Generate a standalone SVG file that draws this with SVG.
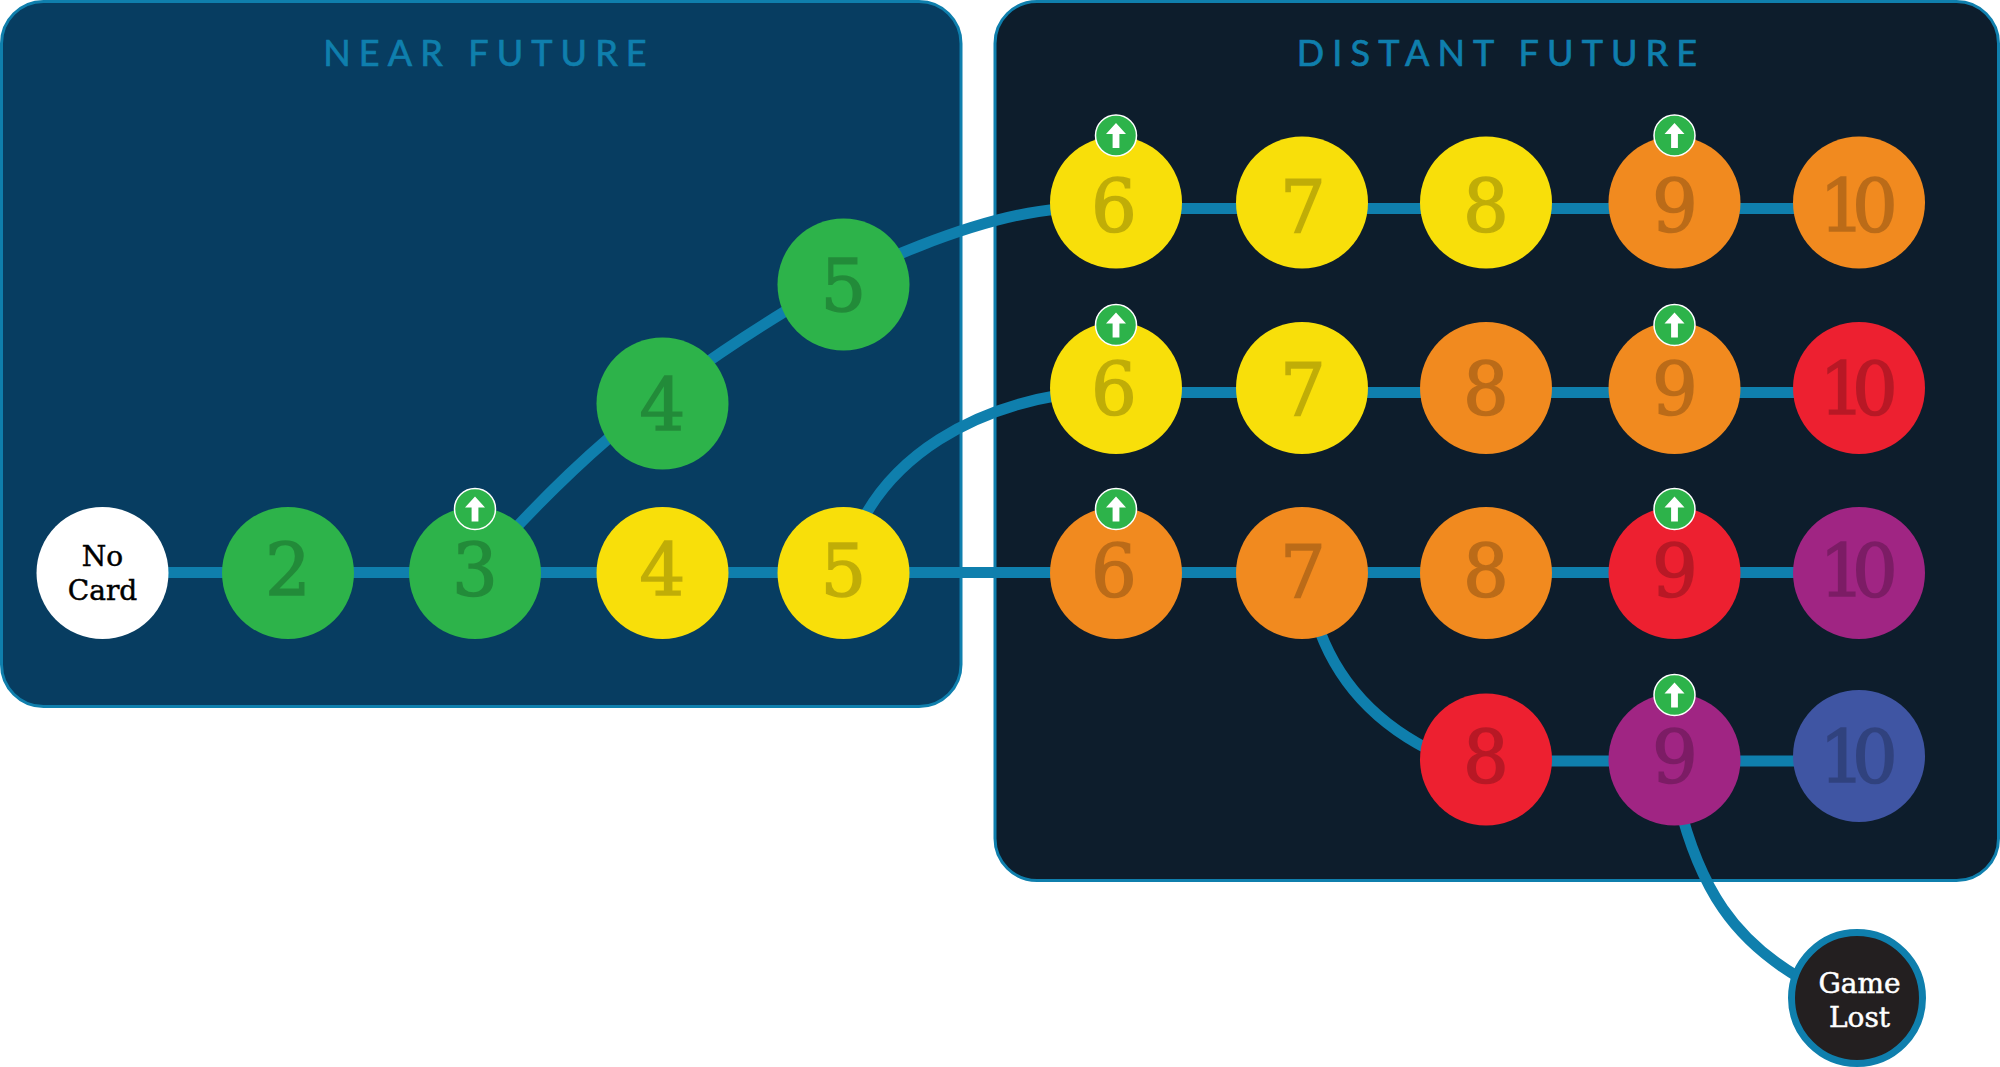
<svg xmlns="http://www.w3.org/2000/svg" xmlns:xlink="http://www.w3.org/1999/xlink" width="2000" height="1067" viewBox="0 0 2000 1067">
<style>
.panel{stroke:#0f7fad;stroke-width:3}
.title{font-family:"Lato","Noto Sans",sans-serif;font-size:36px;font-weight:400;fill:#0f7fad;stroke:#0f7fad;stroke-width:.7;letter-spacing:8.100px;text-anchor:middle}
.conn{fill:none;stroke:#0f7fad;stroke-width:11}
.num{font-family:"DejaVu Serif","Liberation Serif",serif;font-size:72px;fill:#000;stroke:#000;stroke-width:1.500;opacity:.22;text-anchor:middle}
.ten{letter-spacing:-13px}
.lab{font-family:"DejaVu Serif","Liberation Serif",serif;font-size:28px;stroke-width:.5;text-anchor:middle}
.g{fill:#2db34a}.y{fill:#f8df0a}.o{fill:#f18a1f}.r{fill:#ed2030}.p{fill:#a02583}.b{fill:#3f55a3}
</style>
<defs>
<g id="up"><circle r="20.500" fill="#2db34a" stroke="#fff" stroke-width="1.500"/><path d="M0 -12.500L10 -1.500H3.400V12.500H-3.400V-1.500H-10Z" fill="#fff"/></g>
</defs>
<rect id="panel-near" class="panel" x="1.500" y="1.500" width="959.500" height="705" rx="42" fill="#073d61"/>
<rect id="panel-distant" class="panel" x="995" y="1.500" width="1003.500" height="879" rx="42" fill="#0d1d2c"/>
<text class="title" x="489" y="66">NEAR FUTURE</text>
<text class="title" x="1501" y="66">DISTANT FUTURE</text>
<g id="connectors">
<path class="conn" d="M102 572.500H1860"/>
<path class="conn" d="M1116 208.500H1860"/>
<path class="conn" d="M1116 392.500H1860"/>
<path class="conn" d="M1486 761H1860"/>
<path class="conn" d="M490 556C560 478 640 400 784 312C860 266 980 215 1060 209"/>
<path class="conn" d="M860 525C895 455 970 410 1060 395"/>
<path class="conn" d="M1316 620C1335 680 1375 725 1440 755"/>
<path class="conn" d="M1678 800C1700 890 1735 940 1800 978"/>
</g>
<g id="n-nocard"><circle cx="102.500" cy="573" r="66" fill="#fff"/><text class="lab" x="102.500" y="566" fill="#000" stroke="#000">No</text><text class="lab" x="102.500" y="600" fill="#000" stroke="#000">Card</text></g>
<g id="n-2"><circle class="g" cx="288" cy="573" r="66"/><text class="num" x="288" y="596">2</text></g>
<g id="n-3"><circle class="g" cx="475" cy="573" r="66"/><text class="num" x="475" y="596">3</text><use href="#up" x="475" y="509"/></g>
<g id="n-4y"><circle class="y" cx="662.500" cy="573" r="66"/><text class="num" x="662.500" y="596">4</text></g>
<g id="n-5y"><circle class="y" cx="843.500" cy="573" r="66"/><text class="num" x="843.500" y="596">5</text></g>
<g id="n-4g"><circle class="g" cx="662.500" cy="403.500" r="66"/><text class="num" x="662.500" y="430.500">4</text></g>
<g id="n-5g"><circle class="g" cx="843.500" cy="284.500" r="66"/><text class="num" x="843.500" y="310.500">5</text></g>
<g id="r1-6"><circle class="y" cx="1116" cy="202.500" r="66"/><text class="num" x="1114" y="232">6</text><use href="#up" x="1116" y="135.500"/></g>
<g id="r1-7"><circle class="y" cx="1302" cy="202.500" r="66"/><text class="num" x="1303" y="232">7</text></g>
<g id="r1-8"><circle class="y" cx="1486" cy="202.500" r="66"/><text class="num" x="1486" y="232">8</text></g>
<g id="r1-9"><circle class="o" cx="1674.500" cy="202.500" r="66"/><text class="num" x="1675" y="232">9</text><use href="#up" x="1674.500" y="135.500"/></g>
<g id="r1-10"><circle class="o" cx="1859" cy="202.500" r="66"/><text class="num ten" x="1852" y="232">10</text></g>
<g id="r2-6"><circle class="y" cx="1116" cy="388" r="66"/><text class="num" x="1114" y="415">6</text><use href="#up" x="1116" y="325"/></g>
<g id="r2-7"><circle class="y" cx="1302" cy="388" r="66"/><text class="num" x="1303" y="415">7</text></g>
<g id="r2-8"><circle class="o" cx="1486" cy="388" r="66"/><text class="num" x="1486" y="415">8</text></g>
<g id="r2-9"><circle class="o" cx="1674.500" cy="388" r="66"/><text class="num" x="1675" y="415">9</text><use href="#up" x="1674.500" y="325"/></g>
<g id="r2-10"><circle class="r" cx="1859" cy="388" r="66"/><text class="num ten" x="1852" y="415">10</text></g>
<g id="r3-6"><circle class="o" cx="1116" cy="573" r="66"/><text class="num" x="1114" y="597">6</text><use href="#up" x="1116" y="509"/></g>
<g id="r3-7"><circle class="o" cx="1302" cy="573" r="66"/><text class="num" x="1303" y="597">7</text></g>
<g id="r3-8"><circle class="o" cx="1486" cy="573" r="66"/><text class="num" x="1486" y="597">8</text></g>
<g id="r3-9"><circle class="r" cx="1674.500" cy="573" r="66"/><text class="num" x="1675" y="597">9</text><use href="#up" x="1674.500" y="509"/></g>
<g id="r3-10"><circle class="p" cx="1859" cy="573" r="66"/><text class="num ten" x="1852" y="597">10</text></g>
<g id="r4-8"><circle class="r" cx="1486" cy="759.500" r="66"/><text class="num" x="1486" y="783">8</text></g>
<g id="r4-9"><circle class="p" cx="1674.500" cy="759.500" r="66"/><text class="num" x="1675" y="783">9</text><use href="#up" x="1674.500" y="695"/></g>
<g id="r4-10"><circle class="b" cx="1859" cy="756" r="66"/><text class="num ten" x="1852" y="783">10</text></g>
<g id="n-gamelost"><circle cx="1857" cy="998" r="65.500" fill="#231f20" stroke="#0f7fad" stroke-width="7"/><text class="lab" x="1859.500" y="993" fill="#fff" stroke="#fff">Game</text><text class="lab" x="1859.500" y="1027" fill="#fff" stroke="#fff">Lost</text></g>
</svg>
